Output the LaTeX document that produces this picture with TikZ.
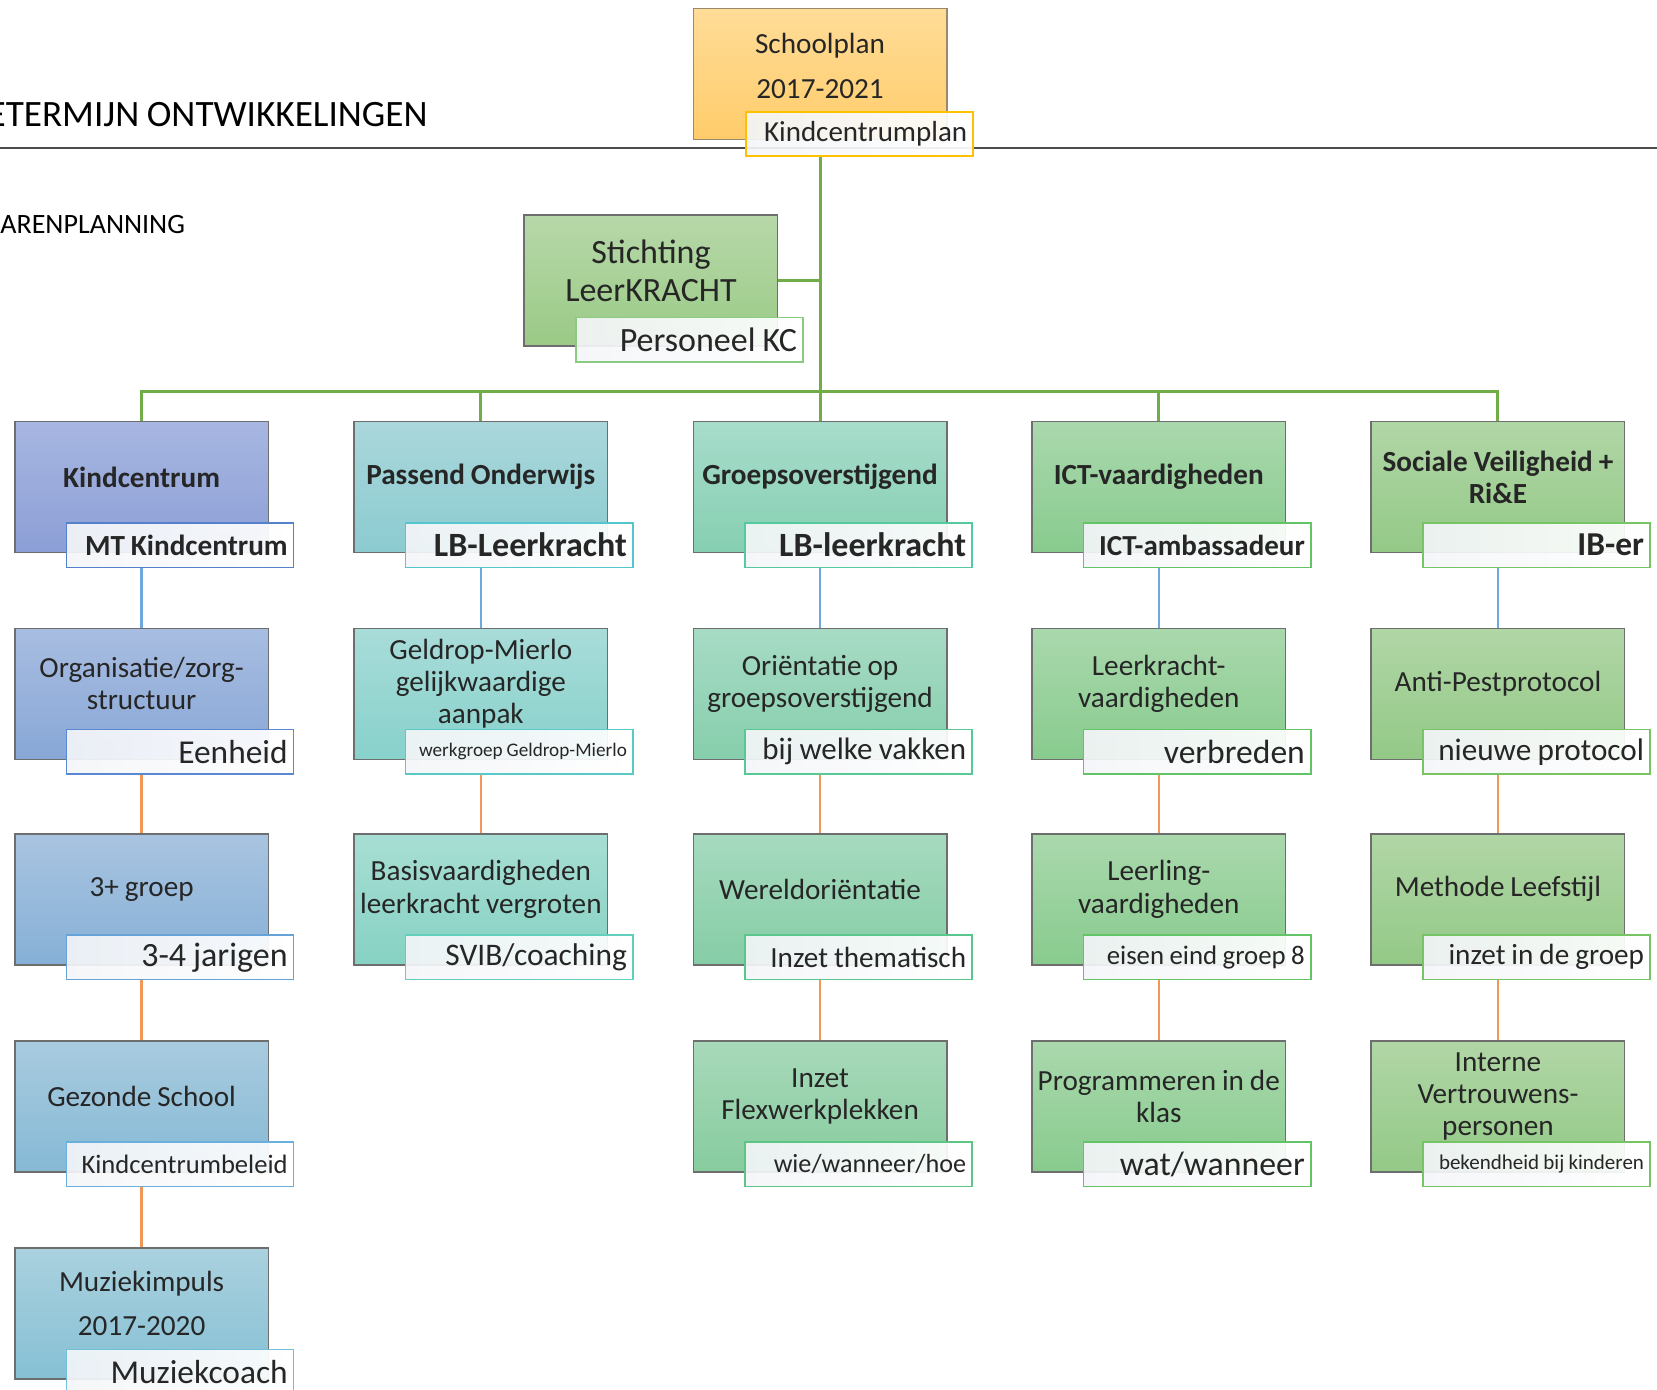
\documentclass[tikz,border=0pt]{standalone}
\usepackage{fontspec}
\setmainfont{Carlito}[WordSpace=0.9]
\usetikzlibrary{positioning}

\definecolor{tekst}{HTML}{262626}
\definecolor{rand}{HTML}{6E6E6E}
\definecolor{regelkl}{HTML}{4D4D4D}
\definecolor{groen}{HTML}{70AD47}
\definecolor{blauw}{HTML}{6FA8DC}
\definecolor{oranje}{HTML}{F1975A}
\definecolor{tagtint}{HTML}{F3F5F8}
\definecolor{spT}{HTML}{FFDC98}\definecolor{spB}{HTML}{FFCC6A}\definecolor{spR}{HTML}{FFC000}
\definecolor{stT}{HTML}{B7D8A9}\definecolor{stB}{HTML}{9ACA86}\definecolor{stR}{HTML}{8ACB82}
\definecolor{kcAt}{HTML}{A7B6E1}\definecolor{kcAb}{HTML}{8C9FD6}\definecolor{kcAr}{HTML}{5580CC}
\definecolor{kcBt}{HTML}{A8BDE1}\definecolor{kcBb}{HTML}{88A7D6}\definecolor{kcBr}{HTML}{5A88D2}
\definecolor{kcCt}{HTML}{A9C4E0}\definecolor{kcCb}{HTML}{86B0D7}\definecolor{kcCr}{HTML}{65A2D8}
\definecolor{kcDt}{HTML}{A8CBDF}\definecolor{kcDb}{HTML}{86B9D5}\definecolor{kcDr}{HTML}{6AB0DD}
\definecolor{kcEt}{HTML}{AAD1DE}\definecolor{kcEb}{HTML}{86C0D4}\definecolor{kcEr}{HTML}{70C0D9}
\definecolor{poAt}{HTML}{AAD7DB}\definecolor{poAb}{HTML}{8BCBD0}\definecolor{poAr}{HTML}{55C6CD}
\definecolor{poBt}{HTML}{A8DCD9}\definecolor{poBb}{HTML}{88D1CB}\definecolor{poBr}{HTML}{58C9C8}
\definecolor{poCt}{HTML}{A8DED4}\definecolor{poCb}{HTML}{86D2C3}\definecolor{poCr}{HTML}{62CEBC}
\definecolor{grAt}{HTML}{A7DCCB}\definecolor{grAb}{HTML}{86CFB2}\definecolor{grAr}{HTML}{55CA9E}
\definecolor{grBt}{HTML}{A7DBC5}\definecolor{grBb}{HTML}{86CEAC}\definecolor{grBr}{HTML}{58C895}
\definecolor{grCt}{HTML}{A6DABF}\definecolor{grCb}{HTML}{86CDA6}\definecolor{grCr}{HTML}{5BC68C}
\definecolor{grDt}{HTML}{A8D9BA}\definecolor{grDb}{HTML}{87CC9F}\definecolor{grDr}{HTML}{5EC585}
\definecolor{icT}{HTML}{AAD8AD}\definecolor{icB}{HTML}{88CB8E}\definecolor{icR}{HTML}{62C466}
\definecolor{svT}{HTML}{B1D6A6}\definecolor{svB}{HTML}{93C987}\definecolor{svR}{HTML}{76C464}

\newcommand\maat[1]{\fontsize{#1}{#1}\selectfont}

\tikzset{
    box/.style = {rectangle, draw=rand, line width=0.7pt, minimum width=126.8pt, minimum height=65.5pt, inner sep=0pt},
    vlak/.style 2 args = {top color=#1, bottom color=#2},
    boxtext/.style = {align=center, inner sep=0pt, text=tekst, font=\fontsize{14.6}{16.1}\selectfont},
    boxtitel/.style = {boxtext, font=\bfseries\fontsize{14.6}{16}\selectfont},
    tag/.style = {rectangle, anchor=south east, line width=0.8pt, minimum height=22.2pt, text width=107.6pt, inner xsep=3pt, inner ysep=0pt, align=flush right, left color=tagtint, right color=white, fill opacity=0.92, text opacity=1, text=tekst},
    lijng/.style = {-, line width=1.5pt, groen},
    lijnb/.style = {-, line width=1.2pt, blauw},
    lijno/.style = {-, line width=1.2pt, oranje},
    regel/.style = {-, line width=1pt, regelkl}
}

\begin{document}
\begin{tikzpicture}[x=0.5284pt,y=-0.5284pt]
\useasboundingbox (0,0) rectangle (1568,1315);

% kop
\draw[regel] (0,140) -- (1568,140);
\node[anchor=base east, inner sep=0pt, text=black, font=\maat{18.6}] at (405,120) (kop) {ETERMIJN ONTWIKKELINGEN};
\node[anchor=base west, inner sep=0pt, text=black, font=\maat{14}] at (0,221) (subkop) {ARENPLANNING};

% bovenste niveau
\node[box, vlak={spT}{spB}, draw=rand!70!spB] at (776,70) (sp) {};
\node[boxtext, font=\fontsize{14.6}{22.2}\selectfont] at ([yshift=4pt]sp.center) (spx) {Schoolplan\\2017-2021};
\node[tag, draw=spR, font=\maat{14.5}] at ([shift={(25,16)}]sp.south east) (spt) {Kindcentrumplan};

\node[box, vlak={stT}{stB}] at (616,265.5) (st) {};
\node[boxtext, font=\fontsize{17}{19}\selectfont] at ([yshift=5pt]st.center) (stx) {Stichting\\LeerKRACHT};
\node[tag, draw=stR, font=\maat{17}] at ([shift={(24,15)}]st.south east) (stt) {Personeel KC};

% kolom 1
\node[box, vlak={kcAt}{kcAb}] at (134,461) (kc1) {};
\node[boxtitel] at ([yshift=5pt]kc1.center) (kc1x) {Kindcentrum};
\node[tag, draw=kcAr, font=\bfseries\maat{14.6}] at ([shift={(24,14)}]kc1.south east) (kc1t) {MT Kindcentrum};
\node[box, vlak={kcBt}{kcBb}] at (134,656.5) (kc2) {};
\node[boxtext] at ([yshift=5pt]kc2.center) (kc2x) {Organisatie/zorg-\\structuur};
\node[tag, draw=kcBr, font=\maat{16.7}] at ([shift={(24,14)}]kc2.south east) (kc2t) {Eenheid};
\node[box, vlak={kcCt}{kcCb}] at (134,851) (kc3) {};
\node[boxtext] at ([yshift=5pt]kc3.center) (kc3x) {3+ groep};
\node[tag, draw=kcCr, font=\maat{17}] at ([shift={(24,14)}]kc3.south east) (kc3t) {3-4 jarigen};
\node[box, vlak={kcDt}{kcDb}] at (134,1047) (kc4) {};
\node[boxtext] at ([yshift=5pt]kc4.center) (kc4x) {Gezonde School};
\node[tag, draw=kcDr, font=\maat{13.3}] at ([shift={(24,14)}]kc4.south east) (kc4t) {Kindcentrumbeleid};
\node[box, vlak={kcEt}{kcEb}] at (134,1243) (kc5) {};
\node[boxtext, font=\fontsize{14.6}{22.2}\selectfont] at ([yshift=5pt]kc5.center) (kc5x) {Muziekimpuls\\2017-2020};
\node[tag, draw=kcEr, font=\maat{16.7}] at ([shift={(24,14)}]kc5.south east) (kc5t) {Muziekcoach};

% kolom 2
\node[box, vlak={poAt}{poAb}] at (455,461) (po1) {};
\node[boxtitel] at ([yshift=5pt]po1.center) (po1x) {Passend Onderwijs};
\node[tag, draw=poAr, font=\bfseries\maat{17}] at ([shift={(24,14)}]po1.south east) (po1t) {LB-Leerkracht};
\node[box, vlak={poBt}{poBb}] at (455,656.5) (po2) {};
\node[boxtext] at ([yshift=5pt]po2.center) (po2x) {Geldrop-Mierlo\\gelijkwaardige\\aanpak};
\node[tag, draw=poBr, font=\maat{9.6}] at ([shift={(24,14)}]po2.south east) (po2t) {werkgroep Geldrop-Mierlo};
\node[box, vlak={poCt}{poCb}] at (455,851) (po3) {};
\node[boxtext] at ([yshift=5pt]po3.center) (po3x) {Basisvaardigheden\\leerkracht vergroten};
\node[tag, draw=poCr, font=\maat{15.7}] at ([shift={(24,14)}]po3.south east) (po3t) {SVIB/coaching};

% kolom 3
\node[box, vlak={grAt}{grAb}] at (776,461) (gr1) {};
\node[boxtitel] at ([yshift=5pt]gr1.center) (gr1x) {Groepsoverstijgend};
\node[tag, draw=grAr, font=\bfseries\maat{17}] at ([shift={(24,14)}]gr1.south east) (gr1t) {LB-leerkracht};
\node[box, vlak={grBt}{grBb}] at (776,656.5) (gr2) {};
\node[boxtext] at ([yshift=5pt]gr2.center) (gr2x) {Oriëntatie op\\groepsoverstijgend};
\node[tag, draw=grBr, font=\maat{15.5}] at ([shift={(24,14)}]gr2.south east) (gr2t) {bij welke vakken};
\node[box, vlak={grCt}{grCb}] at (776,851) (gr3) {};
\node[boxtext] at ([yshift=5pt]gr3.center) (gr3x) {Wereldoriëntatie};
\node[tag, draw=grCr, font=\maat{14.6}] at ([shift={(24,14)}]gr3.south east) (gr3t) {Inzet thematisch};
\node[box, vlak={grDt}{grDb}] at (776,1047) (gr4) {};
\node[boxtext] at ([yshift=5pt]gr4.center) (gr4x) {Inzet\\Flexwerkplekken};
\node[tag, draw=grDr, font=\maat{13.1}] at ([shift={(24,14)}]gr4.south east) (gr4t) {wie/wanneer/hoe};

% kolom 4
\node[box, vlak={icT}{icB}] at (1096.5,461) (ic1) {};
\node[boxtitel] at ([yshift=5pt]ic1.center) (ic1x) {ICT-vaardigheden};
\node[tag, draw=icR, font=\bfseries\maat{14.5}] at ([shift={(24,14)}]ic1.south east) (ic1t) {ICT-ambassadeur};
\node[box, vlak={icT}{icB}] at (1096.5,656.5) (ic2) {};
\node[boxtext] at ([yshift=5pt]ic2.center) (ic2x) {Leerkracht-\\vaardigheden};
\node[tag, draw=icR, font=\maat{16.8}] at ([shift={(24,14)}]ic2.south east) (ic2t) {verbreden};
\node[box, vlak={icT}{icB}] at (1096.5,851) (ic3) {};
\node[boxtext] at ([yshift=5pt]ic3.center) (ic3x) {Leerling-\\vaardigheden};
\node[tag, draw=icR, font=\maat{13.4}] at ([shift={(24,14)}]ic3.south east) (ic3t) {eisen eind groep 8};
\node[box, vlak={icT}{icB}] at (1096.5,1047) (ic4) {};
\node[boxtext] at ([yshift=5pt]ic4.center) (ic4x) {Programmeren in de\\klas};
\node[tag, draw=icR, font=\maat{16.9}] at ([shift={(24,14)}]ic4.south east) (ic4t) {wat/wanneer};

% kolom 5
\node[box, vlak={svT}{svB}] at (1417.5,461) (sv1) {};
\node[boxtitel] at ([yshift=5pt]sv1.center) (sv1x) {Sociale Veiligheid +\\Ri\&E};
\node[tag, draw=svR, font=\bfseries\maat{16.7}] at ([shift={(24,14)}]sv1.south east) (sv1t) {IB-er};
\node[box, vlak={svT}{svB}] at (1417.5,656.5) (sv2) {};
\node[boxtext] at ([yshift=5pt]sv2.center) (sv2x) {Anti-Pestprotocol};
\node[tag, draw=svR, font=\maat{15.6}] at ([shift={(24,14)}]sv2.south east) (sv2t) {nieuwe protocol};
\node[box, vlak={svT}{svB}] at (1417.5,851) (sv3) {};
\node[boxtext] at ([yshift=5pt]sv3.center) (sv3x) {Methode Leefstijl};
\node[tag, draw=svR, font=\maat{14.6}] at ([shift={(24,14)}]sv3.south east) (sv3t) {inzet in de groep};
\node[box, vlak={svT}{svB}] at (1417.5,1047) (sv4) {};
\node[boxtext] at ([yshift=5pt]sv4.center) (sv4x) {Interne\\Vertrouwens-\\personen};
\node[tag, draw=svR, font=\maat{10.5}] at ([shift={(24,14)}]sv4.south east) (sv4t) {bekendheid bij kinderen};

% verbindingen
\coordinate (bus) at (776,370);
\draw[lijng] (spt.south -| sp) -- (bus);
\draw[lijng] (st.east) -- (st.east -| sp);
\draw[lijng] (bus) -| (kc1.north);
\draw[lijng] (bus) -| (po1.north);
\draw[lijng] (bus) -- (gr1.north);
\draw[lijng] (bus) -| (ic1.north);
\draw[lijng] (bus) -| (sv1.north);

\draw[lijnb] (kc1t.south -| kc1) -- (kc2);
\draw[lijnb] (po1t.south -| po1) -- (po2);
\draw[lijnb] (gr1t.south -| gr1) -- (gr2);
\draw[lijnb] (ic1t.south -| ic1) -- (ic2);
\draw[lijnb] (sv1t.south -| sv1) -- (sv2);

\draw[lijno] (kc2t.south -| kc2) -- (kc3);
\draw[lijno] (kc3t.south -| kc3) -- (kc4);
\draw[lijno] (kc4t.south -| kc4) -- (kc5);
\draw[lijno] (po2t.south -| po2) -- (po3);
\draw[lijno] (gr2t.south -| gr2) -- (gr3);
\draw[lijno] (gr3t.south -| gr3) -- (gr4);
\draw[lijno] (ic2t.south -| ic2) -- (ic3);
\draw[lijno] (ic3t.south -| ic3) -- (ic4);
\draw[lijno] (sv2t.south -| sv2) -- (sv3);
\draw[lijno] (sv3t.south -| sv3) -- (sv4);

\end{tikzpicture}
\end{document}
